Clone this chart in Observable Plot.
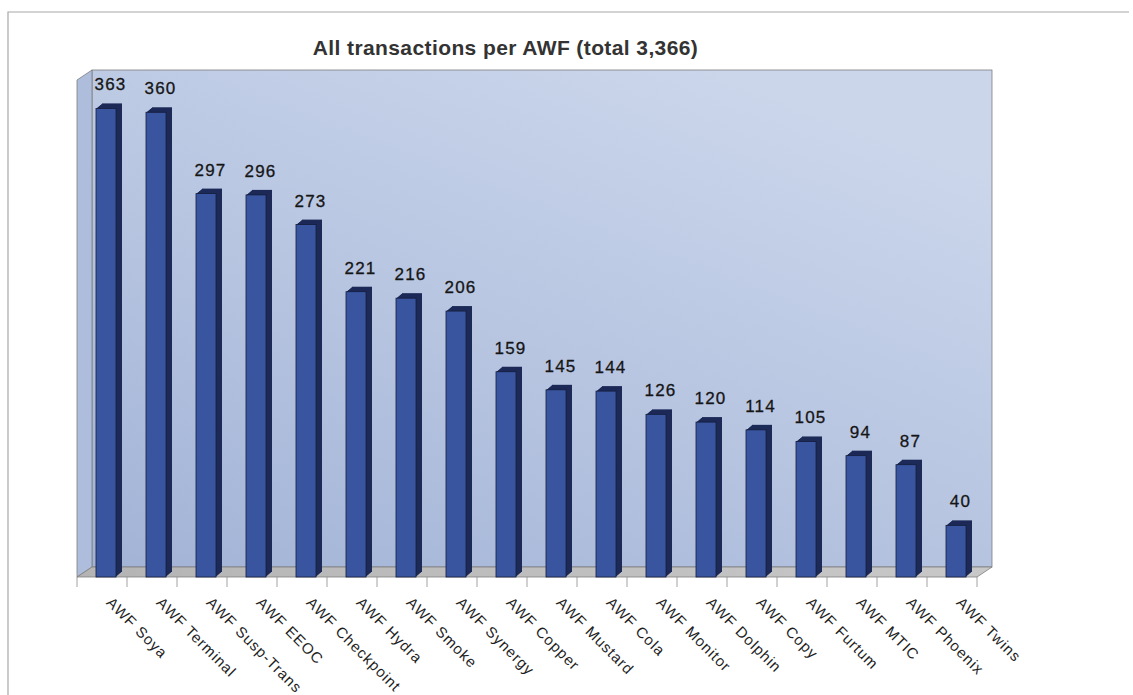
<!DOCTYPE html>
<html>
<head>
<meta charset="utf-8">
<script src="https://cdn.jsdelivr.net/npm/d3@7"></script>
<script src="https://cdn.jsdelivr.net/npm/@observablehq/plot@0.6"></script>
<style>
  html, body { margin: 0; padding: 0; background: #ffffff; }
  svg { display: block; }
</style>
</head>
<body>
<div id="chart"></div>
<script>
const title = "All transactions per AWF (total 3,366)";
const names = ["AWF Soya","AWF Terminal","AWF Susp-Trans","AWF EEOC","AWF Checkpoint","AWF Hydra","AWF Smoke","AWF Synergy","AWF Copper","AWF Mustard","AWF Cola","AWF Monitor","AWF Dolphin","AWF Copy","AWF Furtum","AWF MTIC","AWF Phoenix","AWF Twins"];
const values = [363,360,297,296,273,221,216,206,159,145,144,126,120,114,105,94,87,40];

const data = names.map((name, i) => ({name, value: values[i]}));

const FONT = "'Liberation Sans', Arial, sans-serif";
const DEPTH_X = 15, DEPTH_Y = -10;   // wall depth
const BAR_DX = 4;                     // bar front offset
const BAR_DEPTH = 6;                  // bar extrusion

// Decorative walls, floor, ticks and border, built from Plot's frame dimensions
function walls(index, scales, values, dim) {
  const {width, height, marginLeft: L, marginRight: R, marginTop: T, marginBottom: B} = dim;
  const x0 = L, x1 = width - R, y0 = T, y1 = height - B;
  const g = d3.create("svg:g");
  const defs = g.append("defs");
  const lg = defs.append("linearGradient").attr("id", "wallGrad")
    .attr("x1", "0").attr("y1", "1").attr("x2", "0.7").attr("y2", "0");
  lg.append("stop").attr("offset", "0").attr("stop-color", "#a2b3d6");
  lg.append("stop").attr("offset", "1").attr("stop-color", "#cbd6eb");
  const fg = defs.append("linearGradient").attr("id", "floorGrad")
    .attr("x1", "0").attr("y1", "0").attr("x2", "1").attr("y2", "0");
  fg.append("stop").attr("offset", "0").attr("stop-color", "#b4b4b4");
  fg.append("stop").attr("offset", "1").attr("stop-color", "#c8c8c8");

  // outer border (top and left)
  g.append("path").attr("d", `M8,${height}V12H${width - 4}`)
    .attr("fill", "none").attr("stroke", "#a8a8a8").attr("stroke-width", 1.2);

  // back wall
  g.append("rect").attr("x", x0 + DEPTH_X).attr("y", y0 + DEPTH_Y)
    .attr("width", x1 - x0).attr("height", y1 - y0)
    .attr("fill", "url(#wallGrad)").attr("stroke", "#7d7d7d").attr("stroke-width", 0.8);
  // left wall
  g.append("path").attr("d", `M${x0},${y0}L${x0 + DEPTH_X},${y0 + DEPTH_Y}L${x0 + DEPTH_X},${y1 + DEPTH_Y}L${x0},${y1}Z`)
    .attr("fill", "#aebddc").attr("stroke", "#7d7d7d").attr("stroke-width", 0.8);
  // floor
  g.append("path").attr("d", `M${x0},${y1}L${x0 + DEPTH_X},${y1 + DEPTH_Y}L${x1 + DEPTH_X},${y1 + DEPTH_Y}L${x1},${y1}Z`)
    .attr("fill", "url(#floorGrad)").attr("stroke", "#7d7d7d").attr("stroke-width", 0.8);
  // ticks at category boundaries
  const step = (x1 - x0) / names.length;
  for (let i = 0; i <= names.length; ++i) {
    const xb = x0 + i * step;
    g.append("line").attr("x1", xb).attr("x2", xb).attr("y1", y1).attr("y2", y1 + 10)
      .attr("stroke", "#8a8a8a").attr("stroke-width", 0.8);
  }
  return g.node();
}

const extrude = d3.range(BAR_DEPTH, 0, -1).map(k =>
  Plot.barY(data, {x: "name", y: "value", fill: "#1d2a58", dx: BAR_DX + k, dy: -k * 5 / 6})
);

const chart = Plot.plot({
  width: 1133,
  height: 695,
  marginLeft: 77,
  marginRight: 156,
  marginTop: 80,
  marginBottom: 118,
  style: {fontFamily: FONT, background: "#ffffff", overflow: "visible"},
  x: {domain: names, paddingInner: 0.6, paddingOuter: 0.3, axis: null},
  y: {domain: [0, 385], axis: null},
  marks: [
    walls,
    ...extrude,
    Plot.barY(data, {x: "name", y: "value", fill: "#3a55a0", stroke: "#141c3a", strokeWidth: 0.8, dx: BAR_DX}),
    Plot.text(data, {x: "name", y: "value", text: d => String(d.value), dx: BAR_DX + 4, dy: -24,
      lineAnchor: "middle", fontSize: 17, fill: "#151515", stroke: "#151515", strokeWidth: 0.3,
      fontFamily: FONT}),
    Plot.text(names, {x: d => d, frameAnchor: "bottom", text: d => d, rotate: 45, textAnchor: "start",
      dx: 3, dy: 26, fontSize: 15, fill: "#1e1e1e", fontFamily: FONT}),
    Plot.text([title], {frameAnchor: "top", text: d => d, dx: -22, dy: -32, lineAnchor: "middle", fontSize: 21,
      fontWeight: "bold", fill: "#333333", fontFamily: FONT})
  ]
});

// wider letter spacing to match the reference's wide typeface
d3.select(chart).selectAll("text").each(function() {
  const t = this.textContent;
  let ls = null;
  if (t === title) ls = "0.4px";
  else if (names.includes(t)) ls = "1px";
  else if (values.map(String).includes(t)) ls = "1.2px";
  if (ls) d3.select(this).style("letter-spacing", ls);
});

document.getElementById("chart").appendChild(chart);
</script>
</body>
</html>
